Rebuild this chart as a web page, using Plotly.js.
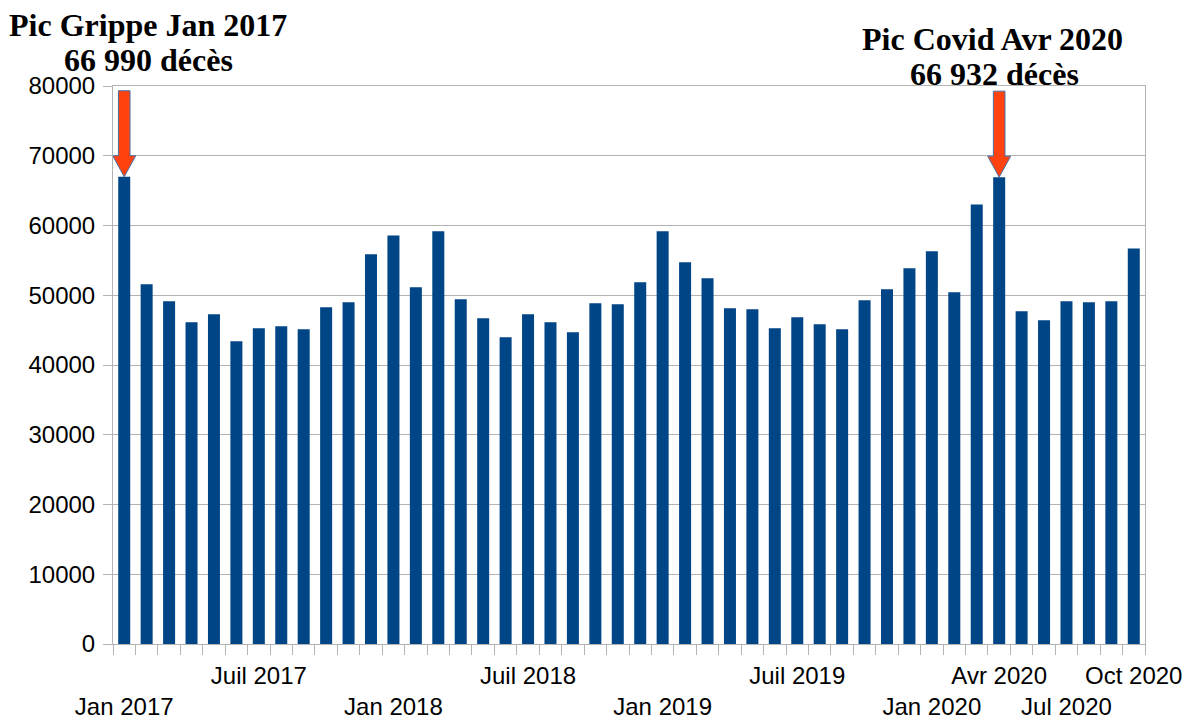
<!DOCTYPE html>
<html>
<head>
<meta charset="utf-8">
<script src="https://cdn.plot.ly/plotly-3.0.1.min.js"></script>
<style>
  html, body { margin: 0; padding: 0; background: #fff; }
  #chart { width: 1191px; height: 719px; }
</style>
</head>
<body>
<div id="chart"></div>
<script>
// monthly deaths in France, Jan 2017 - Oct 2020
const months = [
  'Jan 2017', 'Fév 2017', 'Mar 2017', 'Avr 2017', 'Mai 2017', 'Juin 2017',
  'Juil 2017', 'Août 2017', 'Sep 2017', 'Oct 2017', 'Nov 2017', 'Déc 2017',
  'Jan 2018', 'Fév 2018', 'Mar 2018', 'Avr 2018', 'Mai 2018', 'Juin 2018',
  'Juil 2018', 'Août 2018', 'Sep 2018', 'Oct 2018', 'Nov 2018', 'Déc 2018',
  'Jan 2019', 'Fév 2019', 'Mar 2019', 'Avr 2019', 'Mai 2019', 'Juin 2019',
  'Juil 2019', 'Août 2019', 'Sep 2019', 'Oct 2019', 'Nov 2019', 'Déc 2019',
  'Jan 2020', 'Fév 2020', 'Mar 2020', 'Avr 2020', 'Mai 2020', 'Juin 2020',
  'Jul 2020', 'Août 2020', 'Sep 2020', 'Oct 2020'
];

const deaths = [
  66990, 51570, 49140, 46140, 47280, 43420, 45280, 45570, 45140, 48280, 49000, 55870,
  58580, 51140, 59160, 49430, 46710, 43990, 47280, 46140, 44710, 48860, 48710, 51860,
  59160, 54720, 52430, 48140, 48000, 45280, 46850, 45850, 45140, 49290, 50860, 53860,
  56300, 50430, 63020, 66932, 47710, 46420, 49140, 49000, 49140, 56720
];

// labels shown under the axis: upper row and lower row
const topRowLabels = ['Juil 2017', 'Juil 2018', 'Juil 2019', 'Avr 2020', 'Oct 2020'];
const bottomRowLabels = ['Jan 2017', 'Jan 2018', 'Jan 2019', 'Jan 2020', 'Jul 2020'];

// the two peaks
const peakMonths = ['Jan 2017', 'Avr 2020'];
const peakTitles = ['Pic Grippe Jan 2017', 'Pic Covid Avr 2020'];
const peakCounts = ['66 990 décès', '66 932 décès'];

const tickText = months.map(m => {
  if (topRowLabels.includes(m)) return m;
  if (bottomRowLabels.includes(m)) return '<br>' + m;
  return '';
});

const grey = '#b3b3b3';

const trace = {
  type: 'bar',
  x: months,
  y: deaths,
  marker: { color: '#004586' },
  hoverinfo: 'skip'
};

// arrow outline in pixels, tip at (0,0), y up
const arrowPath = 'M0,0 L-11.5,21 L-5.8,21 L-5.8,86 L5.8,86 L5.8,21 L11.5,21 Z';

const shapes = peakMonths.map(m => {
  const i = months.indexOf(m);
  return {
    type: 'path',
    xref: 'x', yref: 'y',
    xsizemode: 'pixel', ysizemode: 'pixel',
    xanchor: m, yanchor: deaths[i],
    path: arrowPath,
    fillcolor: '#ff420e',
    line: { color: '#4a6fa5', width: 1 }
  };
});

const titleFont = { family: 'Liberation Serif, Times New Roman, serif', size: 32, color: '#000' };
const labelShift = [24, -7];
const lineY = [[1.11, 1.047], [1.085, 1.022]];

const annotations = [];
peakMonths.forEach((m, k) => {
  annotations.push({
    x: m, xref: 'x', y: lineY[k][0], yref: 'paper',
    xshift: labelShift[k], text: '<b>' + peakTitles[k] + '</b>',
    showarrow: false, font: titleFont, xanchor: 'center', yanchor: 'middle'
  });
  annotations.push({
    x: m, xref: 'x', y: lineY[k][1], yref: 'paper',
    xshift: labelShift[k] + 2 * k, text: '<b>' + peakCounts[k] + '</b>',
    showarrow: false, font: titleFont, xanchor: 'center', yanchor: 'middle'
  });
});

const layout = {
  width: 1191,
  height: 719,
  margin: { l: 113, r: 46, t: 86, b: 75 },
  paper_bgcolor: '#fff',
  plot_bgcolor: '#fff',
  bargap: 0.465,
  showlegend: false,
  hovermode: false,
  font: { family: 'Liberation Sans, Arial, sans-serif', size: 24, color: '#000' },
  xaxis: {
    type: 'category',
    categoryorder: 'array',
    categoryarray: months,
    range: [-0.5, months.length - 0.5],
    tickmode: 'array',
    tickvals: months,
    ticktext: tickText,
    tickangle: 0,
    tickson: 'boundaries',
    ticks: 'outside',
    ticklen: 10,
    tickcolor: grey,
    ticklabelstandoff: 10,
    showgrid: false,
    showline: true,
    linecolor: grey,
    linewidth: 1,
    mirror: true,
    tickfont: { size: 24 }
  },
  yaxis: {
    range: [0, 80000],
    dtick: 10000,
    tickformat: 'd',
    ticks: 'outside',
    ticklen: 9,
    tickcolor: grey,
    ticklabelstandoff: 3,
    gridcolor: grey,
    showline: true,
    linecolor: grey,
    linewidth: 1,
    mirror: true,
    zeroline: false,
    tickfont: { size: 24 }
  },
  shapes: shapes,
  annotations: annotations
};

Plotly.newPlot('chart', [trace], layout, { displayModeBar: false, staticPlot: true });
</script>
</body>
</html>
